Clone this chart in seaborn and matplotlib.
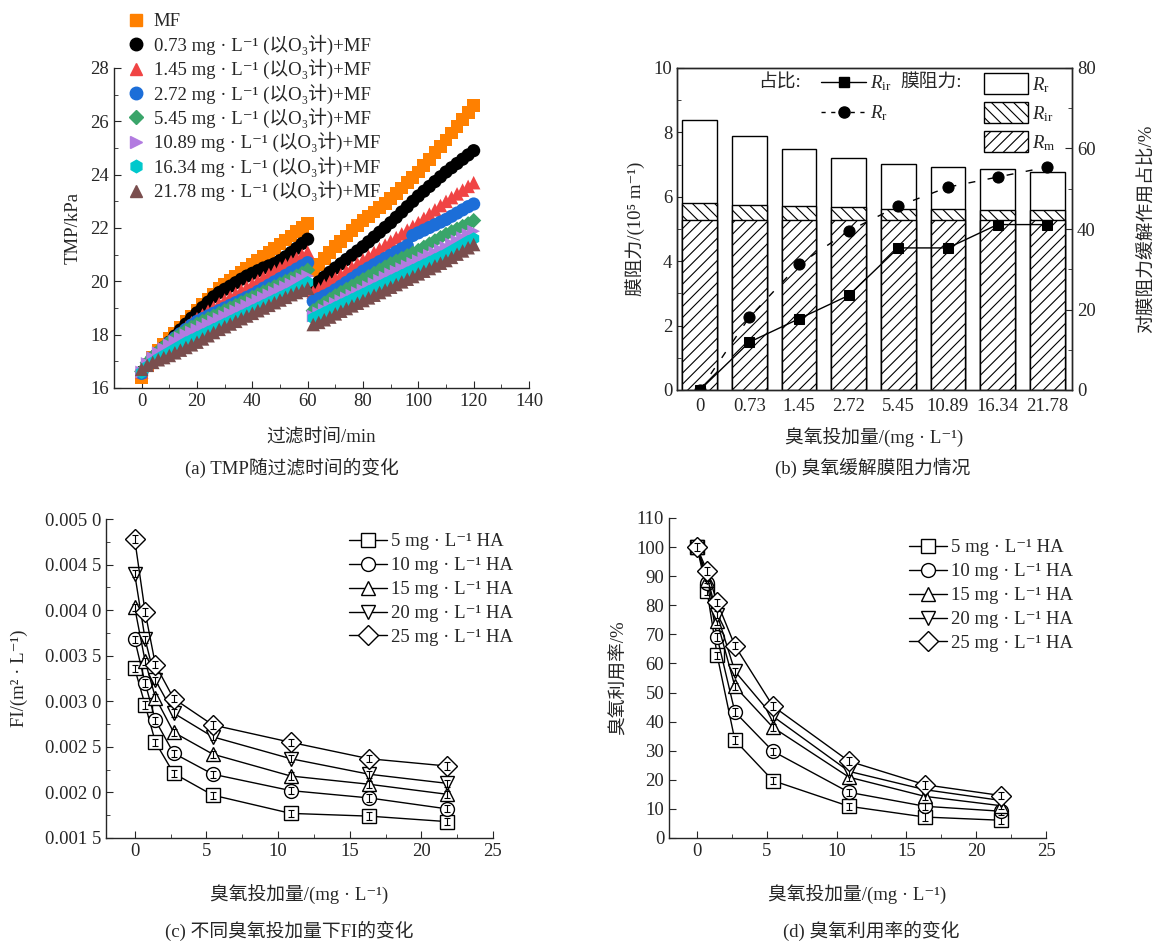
import numpy as np
import pandas as pd
import matplotlib
matplotlib.use("Agg")
import matplotlib.pyplot as plt
from matplotlib.ticker import MultipleLocator, FuncFormatter
from matplotlib.lines import Line2D
from matplotlib.patches import Patch
import seaborn as sns

# --- style ---
sns.set_style("ticks")
plt.rcParams["font.family"] = ["Liberation Serif", "Noto Sans CJK SC", "DejaVu Sans"]
plt.rcParams["mathtext.fontset"] = "custom"
plt.rcParams["mathtext.rm"] = "Liberation Serif"
plt.rcParams["mathtext.it"] = "Liberation Serif:italic"
plt.rcParams["font.size"] = 13.5
plt.rcParams["axes.linewidth"] = 1.0
plt.rcParams["xtick.direction"] = "in"
plt.rcParams["ytick.direction"] = "in"
plt.rcParams["xtick.major.size"] = 5
plt.rcParams["ytick.major.size"] = 5
plt.rcParams["xtick.minor.size"] = 3
plt.rcParams["ytick.minor.size"] = 3
plt.rcParams["hatch.linewidth"] = 0.8

# --- (a) TMP vs filtration time ---
t_run1 = list(range(0, 61, 2))
t_run2 = list(range(62, 121, 2))

mf_1 = [16.40, 16.85, 17.15, 17.40, 17.62, 17.85, 18.05, 18.28, 18.50, 18.70, 18.92, 19.12, 19.32, 19.52, 19.72, 19.90,
        20.05, 20.20, 20.35, 20.48, 20.62, 20.78, 20.93, 21.08, 21.24, 21.40, 21.55, 21.70, 21.86, 22.02, 22.18]
mf_2 = [20.40, 20.62, 20.85, 21.08, 21.30, 21.50, 21.70, 21.90, 22.10, 22.28, 22.44, 22.60, 22.76, 22.92, 23.10,
        23.30, 23.50, 23.70, 23.90, 24.10, 24.34, 24.58, 24.82, 25.06, 25.30, 25.56, 25.82, 26.08, 26.34, 26.60]
o073_1 = [16.60, 16.90, 17.12, 17.32, 17.52, 17.72, 17.95, 18.18, 18.40, 18.62, 18.82, 19.02, 19.22, 19.42, 19.58, 19.70,
          19.82, 19.95, 20.08, 20.20, 20.30, 20.40, 20.50, 20.58, 20.66, 20.78, 20.92, 21.08, 21.24, 21.42, 21.58]
o073_2 = [19.80, 19.98, 20.16, 20.34, 20.50, 20.66, 20.82, 20.98, 21.14, 21.30, 21.48, 21.66, 21.84, 22.02, 22.20,
          22.40, 22.60, 22.80, 23.00, 23.20, 23.38, 23.56, 23.74, 23.92, 24.10, 24.26, 24.42, 24.58, 24.74, 24.90]
o145_1 = [16.60, 16.90, 17.12, 17.32, 17.50, 17.70, 17.90, 18.10, 18.28, 18.45, 18.60, 18.74, 18.88, 19.02, 19.16, 19.30,
          19.42, 19.54, 19.66, 19.78, 19.90, 20.02, 20.14, 20.26, 20.38, 20.50, 20.62, 20.74, 20.86, 20.98, 21.10]
o145_2 = [19.60, 19.72, 19.85, 19.98, 20.10, 20.24, 20.38, 20.52, 20.66, 20.80, 20.94, 21.08, 21.22, 21.36, 21.50,
          21.64, 21.78, 21.92, 22.06, 22.20, 22.36, 22.52, 22.68, 22.84, 23.00, 23.14, 23.28, 23.42, 23.56, 23.70]
o272_1 = [16.55, 16.88, 17.10, 17.30, 17.50, 17.70, 17.88, 18.04, 18.20, 18.36, 18.50, 18.60, 18.70, 18.80, 18.90, 19.00,
          19.10, 19.20, 19.30, 19.40, 19.50, 19.62, 19.74, 19.86, 19.98, 20.10, 20.22, 20.34, 20.46, 20.58, 20.70]
o272_2 = [19.25, 19.35, 19.45, 19.55, 19.68, 19.82, 19.96, 20.10, 20.24, 20.38, 20.50, 20.62, 20.74, 20.86, 20.98,
          21.10, 21.22, 21.34, 21.72, 21.82, 21.92, 22.02, 22.12, 22.22, 22.32, 22.44, 22.56, 22.68, 22.80, 22.90]
o545_1 = [16.62, 16.95, 17.18, 17.38, 17.56, 17.72, 17.88, 18.02, 18.16, 18.28, 18.40, 18.50, 18.60, 18.70, 18.80, 18.90,
          19.00, 19.10, 19.20, 19.30, 19.40, 19.50, 19.60, 19.70, 19.80, 19.90, 20.00, 20.10, 20.20, 20.30, 20.42]
o545_2 = [18.90, 19.04, 19.18, 19.32, 19.46, 19.58, 19.70, 19.82, 19.94, 20.06, 20.18, 20.30, 20.42, 20.54, 20.66,
          20.76, 20.86, 20.96, 21.06, 21.16, 21.28, 21.40, 21.52, 21.64, 21.76, 21.86, 21.96, 22.06, 22.16, 22.28]
o1089_1 = [16.60, 16.92, 17.14, 17.32, 17.48, 17.62, 17.75, 17.88, 18.00, 18.10, 18.20, 18.30, 18.40, 18.50, 18.60, 18.70,
           18.80, 18.90, 19.00, 19.10, 19.20, 19.30, 19.40, 19.50, 19.60, 19.70, 19.80, 19.90, 20.00, 20.10, 20.20]
o1089_2 = [18.70, 18.82, 18.94, 19.06, 19.18, 19.28, 19.38, 19.48, 19.58, 19.68, 19.80, 19.92, 20.04, 20.16, 20.28,
           20.38, 20.48, 20.58, 20.68, 20.78, 20.88, 20.98, 21.08, 21.18, 21.28, 21.40, 21.52, 21.64, 21.76, 21.88]
o1634_1 = [16.58, 16.80, 16.96, 17.10, 17.22, 17.34, 17.46, 17.58, 17.70, 17.80, 17.90, 18.00, 18.10, 18.20, 18.30, 18.40,
           18.50, 18.60, 18.70, 18.80, 18.90, 19.00, 19.10, 19.20, 19.30, 19.40, 19.50, 19.60, 19.72, 19.84, 19.96]
o1634_2 = [18.62, 18.72, 18.82, 18.92, 19.02, 19.12, 19.22, 19.32, 19.42, 19.52, 19.62, 19.72, 19.82, 19.92, 20.02,
           20.12, 20.22, 20.32, 20.42, 20.52, 20.62, 20.72, 20.82, 20.92, 21.02, 21.14, 21.26, 21.38, 21.50, 21.60]
o2178_1 = [16.70, 16.85, 16.96, 17.06, 17.14, 17.22, 17.32, 17.42, 17.52, 17.62, 17.72, 17.84, 17.96, 18.08, 18.20, 18.30,
           18.40, 18.50, 18.60, 18.70, 18.80, 18.90, 19.00, 19.10, 19.20, 19.30, 19.40, 19.50, 19.58, 19.66, 19.74]
o2178_2 = [18.38, 18.46, 18.56, 18.66, 18.78, 18.88, 18.98, 19.08, 19.18, 19.28, 19.38, 19.48, 19.58, 19.68, 19.78,
           19.88, 19.98, 20.08, 20.18, 20.28, 20.38, 20.48, 20.58, 20.68, 20.78, 20.90, 21.02, 21.14, 21.26, 21.38]

tmp_labels = ["MF",
              "0.73 mg · L⁻¹ (以O₃计)+MF",
              "1.45 mg · L⁻¹ (以O₃计)+MF",
              "2.72 mg · L⁻¹ (以O₃计)+MF",
              "5.45 mg · L⁻¹ (以O₃计)+MF",
              "10.89 mg · L⁻¹ (以O₃计)+MF",
              "16.34 mg · L⁻¹ (以O₃计)+MF",
              "21.78 mg · L⁻¹ (以O₃计)+MF"]
tmp_colors = ["#FF8000", "#000000", "#F04444", "#1C6ED8", "#3AA56A", "#B27BE0", "#00C8CC", "#7A4E4E"]
tmp_markers = ["s", "o", "^", "o", "D", ">", "h", "^"]
tmp_sizes = [85, 90, 95, 90, 60, 85, 85, 95]

# --- (b) membrane resistance ---
dose_labels = ["0", "0.73", "1.45", "2.72", "5.45", "10.89", "16.34", "21.78"]
r_m = [5.28, 5.28, 5.28, 5.28, 5.28, 5.28, 5.28, 5.28]
r_ir = [0.52, 0.45, 0.42, 0.39, 0.34, 0.34, 0.32, 0.32]
r_r = [2.60, 2.15, 1.77, 1.55, 1.41, 1.32, 1.25, 1.17]
ratio_rir = [0, 11.9, 17.7, 23.5, 35.3, 35.3, 41.1, 41.1]
ratio_rr = [0, 18.1, 31.2, 39.5, 45.7, 50.4, 52.9, 55.4]

# --- (c) and (d) ---
dose = [0, 0.73, 1.45, 2.72, 5.45, 10.89, 16.34, 21.78]
ha_labels = ["5 mg · L⁻¹ HA", "10 mg · L⁻¹ HA", "15 mg · L⁻¹ HA", "20 mg · L⁻¹ HA", "25 mg · L⁻¹ HA"]
ha_markers = ["s", "o", "^", "v", "D"]
ha_msizes = [9.5, 10, 10.5, 10.5, 10]

fi_5 = [0.00336, 0.00296, 0.00255, 0.00221, 0.00197, 0.00177, 0.00174, 0.00168]
fi_10 = [0.00368, 0.00320, 0.00279, 0.00243, 0.00220, 0.00202, 0.00194, 0.00182]
fi_15 = [0.00403, 0.00344, 0.00304, 0.00266, 0.00242, 0.00218, 0.00209, 0.00198]
fi_20 = [0.00440, 0.00368, 0.00323, 0.00287, 0.00261, 0.00237, 0.00220, 0.00210]
fi_25 = [0.00478, 0.00398, 0.00340, 0.00303, 0.00274, 0.00255, 0.00237, 0.00229]
fi_err = 0.00004

ou_5 = [100, 84.8, 62.8, 33.6, 19.7, 10.9, 7.2, 6.1]
ou_10 = [100, 87.7, 69.0, 43.3, 29.8, 15.7, 10.9, 9.2]
ou_15 = [100, 88.8, 74.5, 52.1, 38.0, 20.9, 14.3, 11.1]
ou_20 = [100, 89.7, 76.8, 57.3, 41.8, 22.9, 16.6, 12.9]
ou_25 = [100, 91.7, 81.0, 66.1, 45.3, 26.4, 18.3, 14.6]
ou_err = 1.3

W, H = 1159, 943
fig = plt.figure(figsize=(W / 100, H / 100), dpi=100)


def rect(left, top, right, bottom):
    return [left / W, 1 - bottom / H, (right - left) / W, (bottom - top) / H]


# ---------------- panel (a) ----------------
ax_a = fig.add_axes(rect(114, 68, 529, 388))
runs1 = [mf_1, o073_1, o145_1, o272_1, o545_1, o1089_1, o1634_1, o2178_1]
runs2 = [mf_2, o073_2, o145_2, o272_2, o545_2, o1089_2, o1634_2, o2178_2]
frames = []
for lab, y1, y2 in zip(tmp_labels, runs1, runs2):
    frames.append(pd.DataFrame({"t": t_run1 + t_run2, "tmp": y1 + y2, "series": lab}))
df_a = pd.concat(frames, ignore_index=True)
for lab, col, mk, sz in zip(tmp_labels, tmp_colors, tmp_markers, tmp_sizes):
    sns.scatterplot(data=df_a[df_a["series"] == lab], x="t", y="tmp", color=col, marker=mk,
                    s=sz, edgecolor="none", linewidth=0, ax=ax_a, legend=False)
ax_a.set_xlim(-10, 140)
ax_a.set_ylim(16, 28)
ax_a.xaxis.set_major_locator(MultipleLocator(20))
ax_a.xaxis.set_minor_locator(MultipleLocator(10))
ax_a.yaxis.set_major_locator(MultipleLocator(2))
ax_a.yaxis.set_minor_locator(MultipleLocator(1))
sns.despine(ax=ax_a)
ax_a.set_xlabel("过滤时间/min", labelpad=14)
ax_a.set_ylabel("TMP/kPa", labelpad=6)
handles_a = [Line2D([], [], ls="none", marker=mk, color=col, markersize=9 if mk != "D" else 7.5)
             for col, mk in zip(tmp_colors, tmp_markers)]
fig.legend(handles_a, tmp_labels, loc="upper left", bbox_to_anchor=(117 / W, 1 - 4 / H),
           frameon=False, handlelength=1.0, handletextpad=0.45, labelspacing=0.22, borderpad=0)

# ---------------- panel (b) ----------------
ax_b = fig.add_axes(rect(677, 68, 1072, 390))
r_m_arr = np.array(r_m)
r_mir = r_m_arr + np.array(r_ir)
r_total = r_mir + np.array(r_r)
bar_kw = dict(color="white", edgecolor="black", linewidth=1, width=0.7, saturation=1, errorbar=None, ax=ax_b)
sns.barplot(x=dose_labels, y=r_total, **bar_kw)
sns.barplot(x=dose_labels, y=r_mir, hatch="\\\\\\", **bar_kw)
sns.barplot(x=dose_labels, y=r_m_arr, hatch="///", **bar_kw)
ax_b.set_ylim(0, 10)
ax_b.yaxis.set_major_locator(MultipleLocator(2))
ax_b.yaxis.set_minor_locator(MultipleLocator(1))
ax_b.set_ylabel("膜阻力/(10⁵ m⁻¹)", labelpad=6)
ax_b.set_xlabel("臭氧投加量/(mg · L⁻¹)", labelpad=9)
ax_b.tick_params(axis="x", length=0, pad=6)

ax_b2 = ax_b.twinx()
sns.pointplot(x=dose_labels, y=ratio_rir, color="black", markers="s", linestyles="-",
              markersize=7, linewidth=1, errorbar=None, ax=ax_b2)
sns.pointplot(x=dose_labels, y=ratio_rr, color="black", markers="o", linestyles="--",
              markersize=8, linewidth=1, errorbar=None, ax=ax_b2)
ax_b2.lines[-1].set_linestyle((0, (5, 9)))
ax_b2.set_ylim(0, 80)
ax_b2.yaxis.set_major_locator(MultipleLocator(20))
ax_b2.yaxis.set_minor_locator(MultipleLocator(10))
ax_b2.tick_params(axis="y", which="both", direction="in")
ax_b2.set_ylabel("对膜阻力缓解作用占比/%", rotation=90)
ax_b2.yaxis.set_label_coords(1.168, 0.5)
ax_b.set_xlim(-0.46, 7.5)
ax_b2.set_xlim(-0.46, 7.5)

line_handles = [Line2D([], [], color="black", marker="s", ls="-", lw=1, markersize=7),
                Line2D([], [], color="black", marker="o", ls=(0, (3, 4)), lw=1, markersize=8)]
fig.legend(line_handles, [r"$R_\mathrm{ir}$", r"$R_\mathrm{r}$"], loc="upper left",
           bbox_to_anchor=(812 / W, 1 - 64 / H), frameon=False, handlelength=2.4,
           handletextpad=0.2, labelspacing=0.55, borderpad=0)
fig.text(758 / W, 1 - 83 / H, "占比:", ha="left", va="center")
patch_handles = [Patch(facecolor="white", edgecolor="black", lw=1),
                 Patch(facecolor="white", edgecolor="black", lw=1, hatch="\\\\\\"),
                 Patch(facecolor="white", edgecolor="black", lw=1, hatch="///")]
fig.legend(patch_handles, [r"$R_\mathrm{r}$", r"$R_\mathrm{ir}$", r"$R_\mathrm{m}$"], loc="upper left",
           bbox_to_anchor=(975 / W, 1 - 64 / H), frameon=False, handlelength=2.3, handleheight=1.35,
           handletextpad=0.25, labelspacing=0.4, borderpad=0)
fig.text(900 / W, 1 - 82 / H, "膜阻力:", ha="left", va="center")


# ---------------- panels (c) and (d) ----------------
def ha_panel(ax, series, err):
    for lab, vals, mk, ms in zip(ha_labels, series, ha_markers, ha_msizes):
        sns.lineplot(x=dose, y=vals, marker=mk, color="black", markersize=ms, linewidth=1,
                     markerfacecolor="white", markeredgecolor="black", markeredgewidth=1,
                     label=lab, ax=ax)
        ax.errorbar(dose, vals, yerr=err, fmt="none", ecolor="black", elinewidth=0.8,
                    capsize=2.5, capthick=0.8)
    ax.set_xlim(-2, 25)
    ax.xaxis.set_major_locator(MultipleLocator(5))
    ax.xaxis.set_minor_locator(MultipleLocator(2.5))
    sns.despine(ax=ax)
    ax.set_xlabel("臭氧投加量/(mg · L⁻¹)", labelpad=18)


ax_c = fig.add_axes(rect(106, 519, 493, 838))
ha_panel(ax_c, [fi_5, fi_10, fi_15, fi_20, fi_25], fi_err)
ax_c.set_ylim(0.0015, 0.005)
ax_c.yaxis.set_major_locator(MultipleLocator(0.0005))
ax_c.yaxis.set_minor_locator(MultipleLocator(0.00025))
ax_c.yaxis.set_major_formatter(FuncFormatter(lambda v, p: f"{v:.4f}"[:5] + " " + f"{v:.4f}"[5:]))
ax_c.set_ylabel("FI/(m² · L⁻¹)", labelpad=12)
ax_c.legend(loc="upper left", bbox_to_anchor=(340 / W, 1 - 524 / H), bbox_transform=fig.transFigure,
            frameon=False, handlelength=2.0, handletextpad=0.2, labelspacing=0.36, borderpad=0)

ax_d = fig.add_axes(rect(669, 518, 1046, 838))
ha_panel(ax_d, [ou_5, ou_10, ou_15, ou_20, ou_25], ou_err)
ax_d.set_ylim(0, 110)
ax_d.yaxis.set_major_locator(MultipleLocator(10))
ax_d.set_ylabel("臭氧利用率/%", labelpad=6)
ax_d.legend(loc="upper left", bbox_to_anchor=(900 / W, 1 - 530 / H), bbox_transform=fig.transFigure,
            frameon=False, handlelength=2.0, handletextpad=0.2, labelspacing=0.36, borderpad=0)

# captions
fig.text(292 / W, 1 - 468 / H, "(a) TMP随过滤时间的变化", ha="center", va="center")
fig.text(873 / W, 1 - 468 / H, "(b) 臭氧缓解膜阻力情况", ha="center", va="center")
fig.text(289 / W, 1 - 931 / H, "(c) 不同臭氧投加量下FI的变化", ha="center", va="center")
fig.text(871 / W, 1 - 931 / H, "(d) 臭氧利用率的变化", ha="center", va="center")

fig.savefig("out.png", dpi=100)
